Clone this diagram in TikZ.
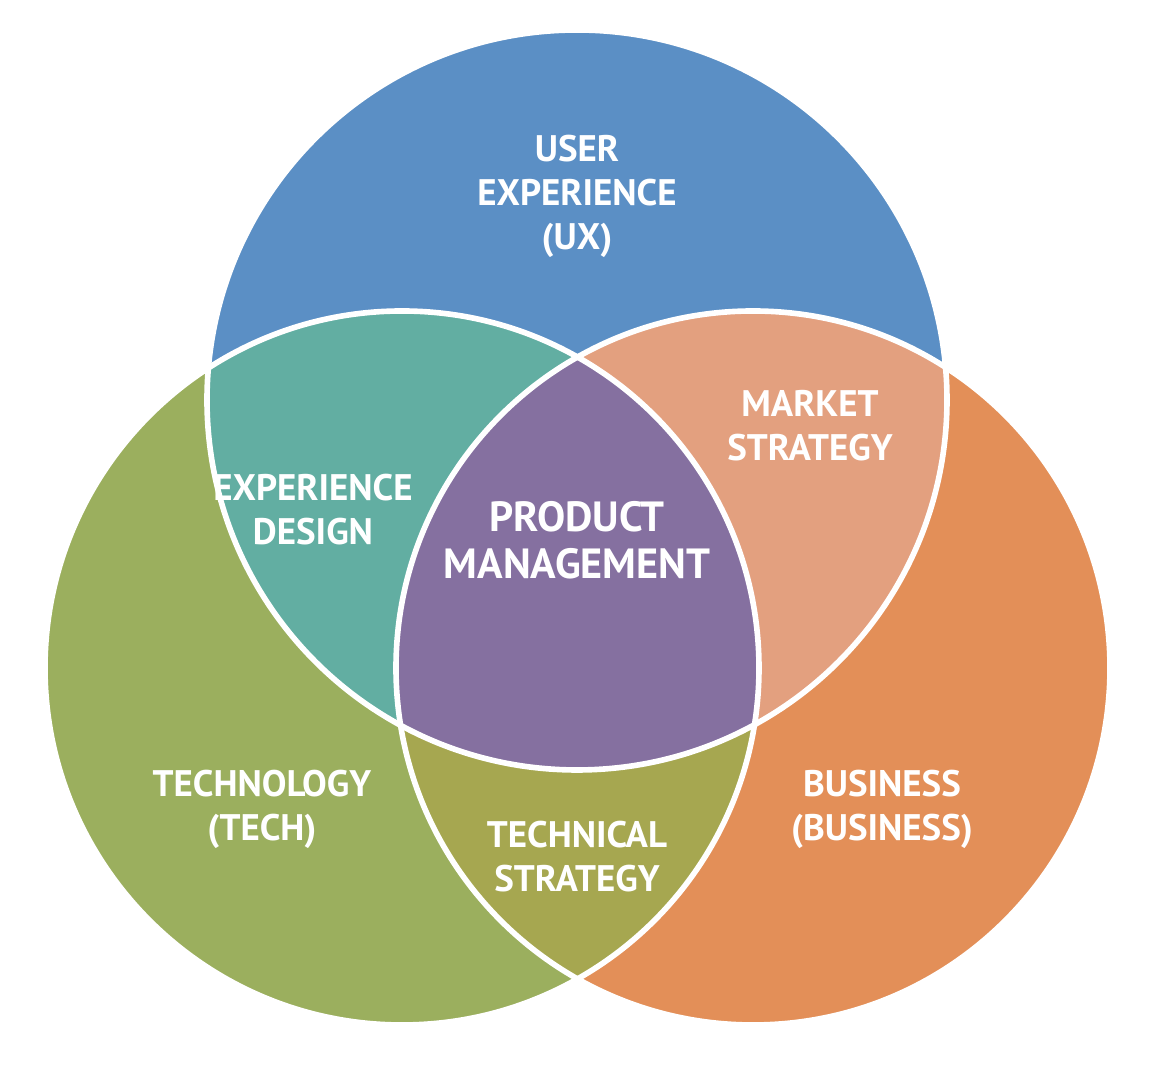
\documentclass[tikz,border=0pt]{standalone}
\usepackage{fontspec}
\setmainfont{PT Sans}
\usetikzlibrary{positioning}
\definecolor{uxblue}{HTML}{5B8FC5}
\definecolor{techgreen}{HTML}{9BAF5E}
\definecolor{bizorange}{HTML}{E38F58}
\definecolor{teal}{HTML}{62AEA2}
\definecolor{salmon}{HTML}{E3A07F}
\definecolor{olive}{HTML}{A6A750}
\definecolor{pmpurple}{HTML}{8570A0}
\begin{document}
\begin{tikzpicture}[x=0.01cm,y=-0.01cm,
    lbl/.style={text=white, align=center, font=\bfseries\fontsize{10.5}{12.5}\selectfont},
    big/.style={lbl, font=\bfseries\fontsize{12}{13.5}\selectfont},
    rim/.style={draw=white, line width=1.6pt},
    ]
    \useasboundingbox (0,0) rectangle (1156,1065);
    \def\ux{(577,400) circle (370)}
    \def\tech{(402,668) circle (357)}
    \def\biz{(753,668) circle (357)}

    % circles
    \fill[uxblue] \ux;
    \fill[techgreen] \tech;
    \fill[bizorange] \biz;
    % overlaps
    \begin{scope}
      \clip \ux;
      \fill[teal] \tech;
      \fill[salmon] \biz;
    \end{scope}
    \begin{scope}
      \clip \tech;
      \fill[olive] \biz;
    \end{scope}
    \begin{scope}
      \clip \ux; \clip \tech;
      \fill[pmpurple] \biz;
    \end{scope}
    % rims
    \draw[rim] \ux;
    \draw[rim] \tech;
    \draw[rim] \biz;

    % labels
    \node[lbl] (ux) at (577,196) {USER\\EXPERIENCE\\(UX)};
    \node[lbl] (xd) at (313,510) {EXPERIENCE\\DESIGN};
    \node[big] (pm) at (577,540) {PRODUCT\\MANAGEMENT};
    \node[lbl] (ms) at (810,426) {MARKET\\STRATEGY};
    \node[lbl] (tech) at (262,809) {TECHNOLOGY\\(TECH)};
    \node[lbl] (biz) at (882,809) {BUSINESS\\(BUSINESS)};
    \node[lbl] (ts) at (577,857) {TECHNICAL\\STRATEGY};
\end{tikzpicture}
\end{document}
